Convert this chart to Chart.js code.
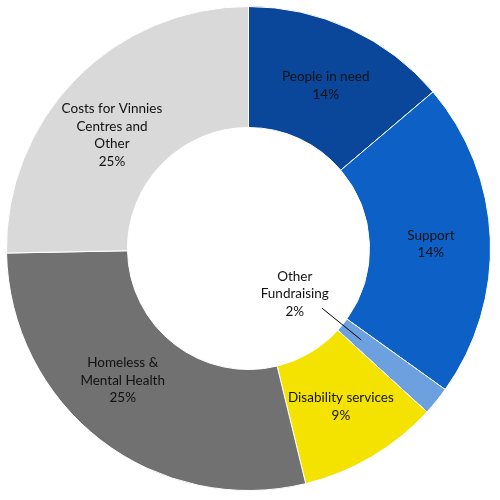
<!DOCTYPE html>
<html>
<head>
<meta charset="utf-8">
<script src="https://cdn.jsdelivr.net/npm/chart.js@4/dist/chart.umd.min.js"></script>
<style>
html,body{margin:0;padding:0;background:#fff;}
#c{display:block;}
</style>
</head>
<body>
<canvas id="c" width="500" height="500"></canvas>
<script>
const categories = ["People in need", "Support", "Other Fundraising", "Disability services", "Homeless & Mental Health", "Costs for Vinnies Centres and Other"];
const values = [13.8, 21.1, 1.9, 9.4, 28.5, 25.3];
const labelPercents = ["14%", "14%", "2%", "9%", "25%", "25%"];
const labelLines = [
  ["People in need"],
  ["Support"],
  ["Other", "Fundraising"],
  ["Disability services"],
  ["Homeless &", "Mental Health"],
  ["Costs for Vinnies", "Centres and", "Other"]
];
const colors = ["#0A479A", "#0C60C6", "#6DA0DE", "#F4E300", "#717171", "#D9D9D9"];

const labelPlugin = {
  id: 'sliceLabels',
  afterDatasetsDraw(chart) {
    const ctx = chart.ctx;
    const meta = chart.getDatasetMeta(0);
    const offsets = [[1, 2], [1, 3], [0, 0], [0, 2], [-15, -12], [-7, 14]];
    ctx.save();
    ctx.font = '13.5px Lato, "Open Sans", sans-serif';
    ctx.fillStyle = '#111111';
    ctx.textAlign = 'center';
    ctx.textBaseline = 'middle';
    const lh = 17.5;
    meta.data.forEach((arc, i) => {
      const lines = labelLines[i].concat([labelPercents[i]]);
      let cx, cy;
      if (i === 2) {
        const mid = (arc.startAngle + arc.endAngle) / 2;
        const r1 = arc.innerRadius * 0.78, r2 = arc.innerRadius * 1.2;
        const x1 = arc.x + Math.cos(mid) * r1, y1 = arc.y + Math.sin(mid) * r1;
        const x2 = arc.x + Math.cos(mid) * r2, y2 = arc.y + Math.sin(mid) * r2;
        ctx.strokeStyle = '#000';
        ctx.lineWidth = 1;
        ctx.beginPath();
        ctx.moveTo(x1, y1);
        ctx.lineTo(x2, y2);
        ctx.stroke();
        cx = x1 - 27; cy = y1 - 14;
      } else {
        const p = arc.tooltipPosition();
        cx = p.x + offsets[i][0]; cy = p.y + offsets[i][1];
      }
      const top = cy - (lines.length - 1) * lh / 2;
      lines.forEach((t, k) => ctx.fillText(t, cx, top + k * lh));
    });
    ctx.restore();
  }
};

new Chart(document.getElementById('c'), {
  type: 'doughnut',
  data: {
    labels: categories,
    datasets: [{
      data: values,
      backgroundColor: colors,
      borderColor: '#ffffff',
      borderWidth: 1
    }]
  },
  options: {
    responsive: false,
    animation: false,
    cutout: '50%',
    layout: { padding: { left: 6, top: 6, right: 9, bottom: 9 } },
    plugins: { legend: { display: false }, tooltip: { enabled: false } }
  },
  plugins: [labelPlugin]
});
</script>
</body>
</html>
